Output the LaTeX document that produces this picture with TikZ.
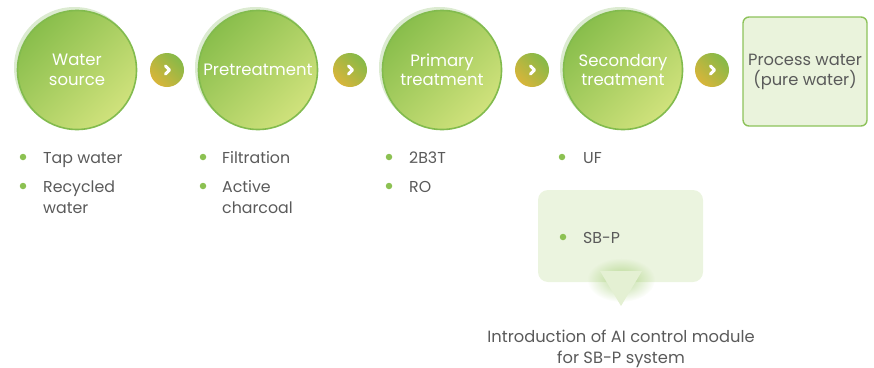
\documentclass[tikz,border=0pt]{standalone}
\usepackage{fontspec}
\setmainfont{Poppins}
\usetikzlibrary{fadings}

\definecolor{stagedark}{HTML}{89BE4C}
\definecolor{stagelight}{HTML}{D0E27C}
\definecolor{stageline}{HTML}{82BB4E}
\definecolor{halo}{HTML}{DCEBD1}
\definecolor{chevgold}{HTML}{D8B53A}
\definecolor{chevgreen}{HTML}{86B948}
\definecolor{boxfill}{HTML}{EAF3DC}
\definecolor{boxline}{HTML}{8DC25A}
\definecolor{notefill}{HTML}{EBF4DF}
\definecolor{tipfill}{HTML}{E4F0D3}
\definecolor{textgrey}{HTML}{5A5A5A}
\definecolor{dotgreen}{HTML}{8CC152}

\tikzfading[name=glowfade, inner color=transparent!40, outer color=transparent!100]

\tikzset{
  stage/.style={circle, minimum size=119, inner sep=0, draw=stageline, line width=1.6,
    top color=stagedark, bottom color=stagelight, shading angle=45,
    text=white, align=center, font=\fontsize{16.5}{19.5}\selectfont},
  chev/.style={circle, minimum size=34, inner sep=0,
    top color=chevgreen, bottom color=chevgold, shading angle=-45},
  dot/.style={circle, fill=dotgreen, inner sep=0, minimum size=6.5},
  item/.style={anchor=base west, inner sep=0, text=textgrey, align=left,
    font=\fontsize{15.8}{21}\selectfont},
}

\begin{document}
\begin{tikzpicture}[x=1pt,y=-1pt]
\useasboundingbox (0,0) rectangle (874,367);

% halos behind the stages
\foreach \cx in {77,258,442,623}
  \fill[halo] (\cx-2.5,67.5) circle (60.5);

% stages
\node[stage] (src) at (77,70) {Water\\source};
\node[stage] (pre) at (258,70) {Pretreatment};
\node[stage] (pri) at (442,70) {Primary\\treatment};
\node[stage] (sec) at (623,70) {Secondary\\treatment};
\node[draw=boxline, line width=1.4, fill=boxfill, rounded corners=6,
      minimum width=124, minimum height=109, text=textgrey, align=center,
      font=\fontsize{16.3}{20}\selectfont] (out) at (805,71.5) {Process water\\(pure water)};

% chevrons
\node[chev] (a1) at (167,70) {};
\node[chev] (a2) at (350,70) {};
\node[chev] (a3) at (532,70) {};
\node[chev] (a4) at (712,70) {};
\foreach \a in {a1,a2,a3,a4}
  \draw[white, line width=3, line cap=round, line join=round]
    ([shift={(-1.5,-4)}]\a.center) -- ([shift={(2.5,0)}]\a.center) -- ([shift={(-1.5,4)}]\a.center);

% lists (base = last line)
\node[dot] (d1) at (23,157) {};
\node[item] (t1) at (43,163) {Tap water};
\node[dot] (d2) at (23,186) {};
\node[item] (t2) at (43,213) {Recycled\\water};
\node[dot] (d3) at (203,157) {};
\node[item] (t3) at (222,163) {Filtration};
\node[dot] (d4) at (203,186) {};
\node[item] (t4) at (222,213) {Active\\charcoal};
\node[dot] (d5) at (389,157) {};
\node[item] (t5) at (409,163) {2B3T};
\node[dot] (d6) at (389,186) {};
\node[item] (t6) at (409,192) {RO};
\node[dot] (d7) at (562,157) {};
\node[item] (t7) at (583,163) {UF};

% note box
\fill[notefill, rounded corners=10] (538,190) rectangle (703,282);
\fill[dotgreen, path fading=glowfade] (621,280) ellipse (34 and 22);
\fill[tipfill] (600,271) -- (642,271) -- (621,306) -- cycle;
\node[dot] (d8) at (563,237) {};
\node[item] (t8) at (583,243) {SB-P};
\node[text=textgrey, align=center, inner sep=0, anchor=base,
      font=\fontsize{16.3}{20.5}\selectfont] (ai) at (621,363)
  {Introduction of AI control module\\for SB-P system};
\end{tikzpicture}
\end{document}
